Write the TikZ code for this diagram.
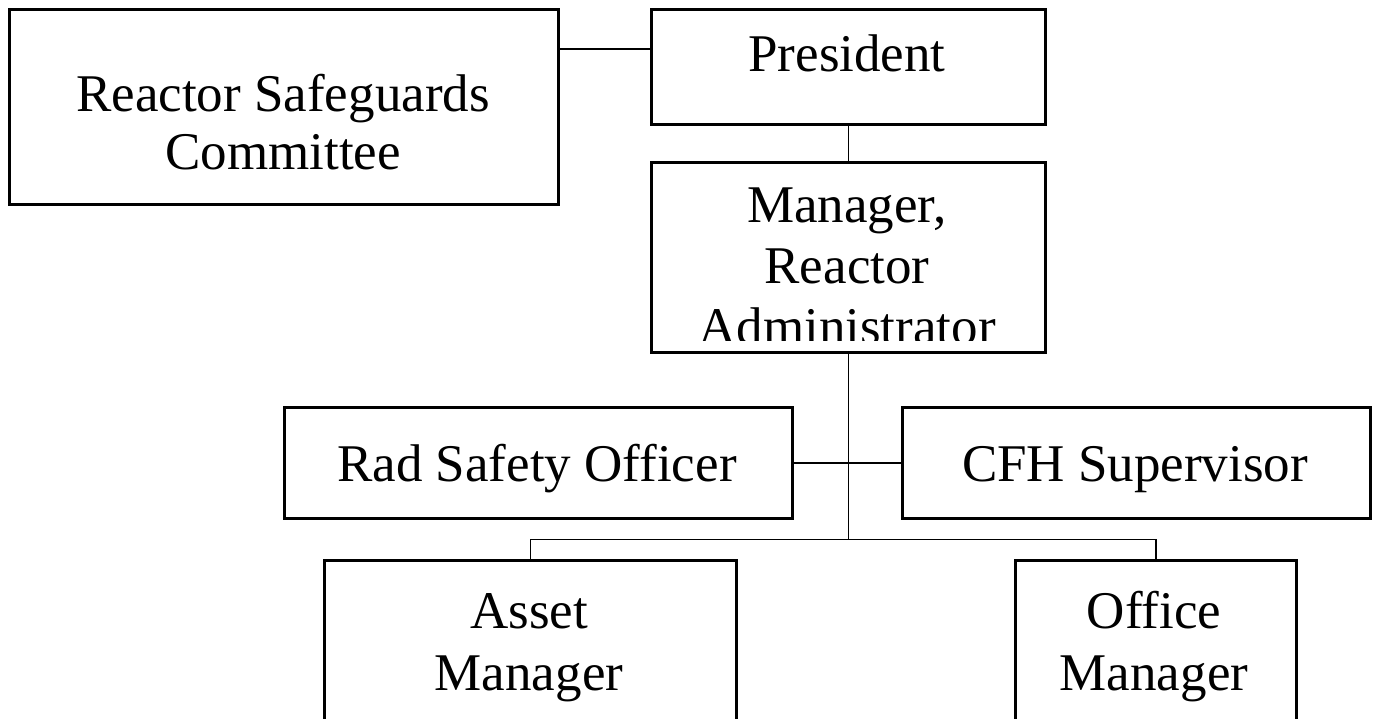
\documentclass[tikz,border=0pt]{standalone}
\usepackage{fontspec}
\setmainfont{Liberation Serif}
\begin{document}
\begin{tikzpicture}[x=1pt,y=-1pt,
  box/.style={draw=black, line width=2.7pt, anchor=north west, inner sep=0pt},
  txt/.style={anchor=base, inner sep=0pt, font=\fontsize{53}{61}\selectfont},
  conn/.style={draw=black, line width=1.4pt}]
\useasboundingbox (0,0) rectangle (1379,718);
\fill[white] (0,0) rectangle (1379,718);
% boxes
\node[box, minimum width=549pt, minimum height=195pt] (rsc) at (8,8) {};
\node[box, minimum width=394pt, minimum height=115pt] (pres) at (650,8) {};
\node[box, minimum width=394pt, minimum height=190pt] (mgr) at (650,161) {};
\node[box, minimum width=508pt, minimum height=111pt] (rso) at (283,406) {};
\node[box, minimum width=468pt, minimum height=111pt] (cfh) at (901,406) {};
\node[box, minimum width=412pt, minimum height=220pt] (asset) at (323,559) {};
\node[box, minimum width=281pt, minimum height=220pt] (office) at (1014,559) {};
% texts
\node[txt] (rsc1) at (283,111) {Reactor Safeguards};
\node[txt] (rsc2) at (283,169) {Committee};
\node[txt] (pres1) at (847,71) {President};
\begin{scope}
\clip (650,161) rectangle (1044,340);
\node[txt] (mgr1) at (847,222) {Manager,};
\node[txt] (mgr2) at (847,283) {Reactor};
\node[txt] (mgr3) at (847,344) {Administrator};
\end{scope}
\node[txt] (rso1) at (537,481) {Rad Safety Officer};
\node[txt] (cfh1) at (1135,481) {CFH Supervisor};
\node[txt] (asset1) at (529,628) {Asset};
\node[txt] (asset2) at (529,690) {Manager};
\node[txt] (office1) at (1154,628) {Office};
\node[txt] (office2) at (1154,690) {Manager};
% connectors
\path (rsc.north east) ++(0,41) coordinate (j1);
\draw[conn] (j1) -- (j1 -| pres.west);
\draw[conn] (pres.south) -- (pres.south |- mgr.north);
\path (mgr.south) ++(0,186) coordinate (bus);
\draw[conn] (mgr.south) -- (bus);
\draw[conn] (rso.east) -- (cfh.west);
\draw[conn] (asset.north) |- (bus) -| (office.north);
\end{tikzpicture}
\end{document}
